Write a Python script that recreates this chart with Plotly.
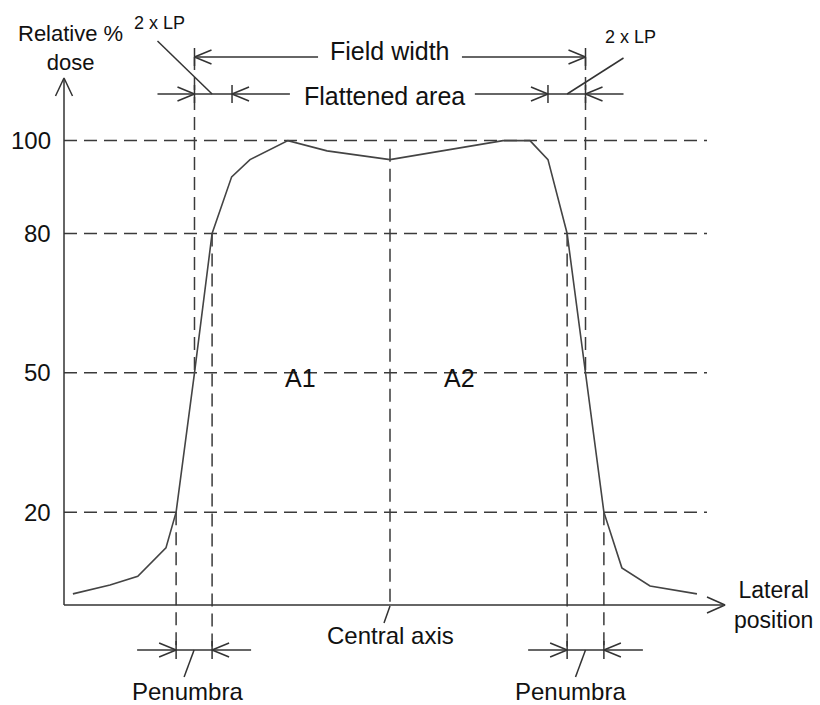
import numpy as np
import plotly.graph_objects as go

# ---------------- data ----------------
lateral_position = [-81.1, -71.6, -64.5, -57.3, -54.7, -50.0, -45.5, -40.5, -35.8, -26.1,
                    -16.1, 0.0, 28.9, 35.8, 40.4, 45.3, 50.0, 54.7, 59.3, 66.5, 78.5]
relative_dose = [2.4, 4.3, 6.2, 12.3, 20, 50, 80, 92.2, 95.9, 100,
                 97.8, 95.9, 100, 100, 95.9, 80, 50, 20, 8.0, 4.1, 2.4]
dose_levels = [20, 50, 80, 100]
dose_tick_labels = ["20", "50", "80", "100"]
flattened_area_edges = [-40.4, 40.4]
central_axis = 0.0

# ---------------- geometry helpers ----------------
X_RANGE = [-99.74, 109.97]
Y_RANGE = [-21.53, 130.28]
W, H = 820, 705
PX = (X_RANGE[1] - X_RANGE[0]) / W   # data units per pixel (x)
PY = (Y_RANGE[1] - Y_RANGE[0]) / H   # data units per pixel (y)

x_arr = np.array(lateral_position)
d_arr = np.array(relative_dose)
peak = int(np.argmax(d_arr))
last_peak = len(d_arr) - 1 - int(np.argmax(d_arr[::-1]))


def left_cross(level):
    return float(np.interp(level, d_arr[:peak + 1], x_arr[:peak + 1]))


def right_cross(level):
    return float(np.interp(level, d_arr[last_peak:][::-1], x_arr[last_peak:][::-1]))


xl20, xl50, xl80 = left_cross(20), left_cross(50), left_cross(80)
xr20, xr50, xr80 = right_cross(20), right_cross(50), right_cross(80)

axis_x = X_RANGE[0] + 64 * PX
axis_top = Y_RANGE[1] - 78 * PY
axis_right = X_RANGE[0] + 725 * PX
grid_right = X_RANGE[0] + 707 * PX
row_field = Y_RANGE[1] - 57 * PY
row_flat = Y_RANGE[1] - 94 * PY
row_pen = Y_RANGE[1] - 650 * PY

solid_x, solid_y = [], []
dash_x, dash_y = [], []


def seg(xs, ys, dashed=False):
    tx, ty = (dash_x, dash_y) if dashed else (solid_x, solid_y)
    tx.extend(list(xs) + [None])
    ty.extend(list(ys) + [None])


def tick(x, y, half=9):
    seg([x, x], [y - half * PY, y + half * PY])


def chevron(x, y, direction):
    # direction=+1: tip points right (arms to the left); -1: tip points left
    dx = 17 * PX * direction
    dy = 7 * PY
    seg([x - dx, x, x - dx], [y + dy, y, y - dy])


# axes
seg([axis_x, axis_x], [0, axis_top - 1 * PY])
seg([axis_x - 8.5 * PX, axis_x, axis_x + 8.5 * PX], [axis_top - 18 * PY, axis_top, axis_top - 18 * PY])
seg([axis_x, axis_right - 2 * PX], [0, 0])
seg([axis_right - 18 * PX, axis_right, axis_right - 18 * PX], [8 * PY, 0, -8 * PY])

# horizontal dashed level lines
for lv in dose_levels:
    seg([axis_x, grid_right], [lv, lv], dashed=True)

# vertical dashed lines
for xv in (xl50, xr50):
    seg([xv, xv], [row_field, 50], dashed=True)
for xv, lv in ((xl20, 20), (xl80, 80), (xr20, 20), (xr80, 80)):
    seg([xv, xv], [lv, row_pen], dashed=True)
center_top = float(np.interp(central_axis, x_arr, d_arr)) + 11 * PY
seg([central_axis, central_axis], [center_top, 0], dashed=True)

# field width row
seg([xl50, -18.4], [row_field, row_field])
seg([18.4, xr50], [row_field, row_field])
tick(xl50, row_field); tick(xr50, row_field)
chevron(xl50, row_field, -1); chevron(xr50, row_field, +1)

# flattened area row
fl, fr = flattened_area_edges
seg([xl50 - 37 * PX, -25.6], [row_flat, row_flat])
seg([21.7, xr50 + 38 * PX], [row_flat, row_flat])
for xv in (xl50, fl, fr, xr50):
    tick(xv, row_flat)
chevron(xl50, row_flat, +1); chevron(fl, row_flat, -1)
chevron(fr, row_flat, +1); chevron(xr50, row_flat, -1)

# 2 x LP leader lines
seg([xl50 - 37 * PX, xl80], [row_flat + 53 * PY, row_flat])
seg([xr50 + 38 * PX, xr80], [row_flat + 36 * PY, row_flat])

# penumbra rows
for a, b in ((xl20, xl80), (xr80, xr20)):
    seg([a - 39 * PX, b + 39 * PX], [row_pen, row_pen])
    tick(a, row_pen); tick(b, row_pen)
    chevron(a, row_pen, +1); chevron(b, row_pen, -1)
    mid = (a + b) / 2
    seg([mid, mid - 10 * PX], [row_pen, row_pen - 27 * PY])

# central axis leader
seg([central_axis, central_axis - 6 * PX], [-1 * PY, -18 * PY])

LINE_COLOR = "#333333"
fig = go.Figure()
fig.add_trace(go.Scatter(x=dash_x, y=dash_y, mode="lines",
                         line=dict(color="#3a3a3a", width=1.5, dash="13px,7px"),
                         hoverinfo="skip", showlegend=False))
fig.add_trace(go.Scatter(x=solid_x, y=solid_y, mode="lines",
                         line=dict(color=LINE_COLOR, width=1.5),
                         hoverinfo="skip", showlegend=False))
fig.add_trace(go.Scatter(x=lateral_position, y=relative_dose, mode="lines",
                         line=dict(color="#444444", width=1.6),
                         hoverinfo="skip", showlegend=False))

FONT = "Liberation Sans, Arial, sans-serif"
ann = []


def text(t, x, y, size=24, xanchor="center"):
    ann.append(dict(text=t, x=x, y=y, xref="x", yref="y", showarrow=False,
                    xanchor=xanchor, yanchor="middle", align="center",
                    font=dict(family=FONT, size=size, color="#111111")))


for lv, lab in zip(dose_levels, dose_tick_labels):
    text(lab, axis_x - 11 * PX, lv, xanchor="right")

text("Relative %<br>dose", axis_x + 6 * PX, Y_RANGE[1] - 48 * PY, size=22)
text("2 x LP", xl50 - 35 * PX, Y_RANGE[1] - 23 * PY, size=18)
text("2 x LP", xr50 + 45 * PX, Y_RANGE[1] - 37 * PY, size=18)
text("Field width", central_axis, Y_RANGE[1] - 51 * PY, size=25)
text("Flattened area", central_axis - 6 * PX, Y_RANGE[1] - 96 * PY, size=25)
text("A1", -23.0, Y_RANGE[1] - 378 * PY, size=25)
text("A2", 17.9, Y_RANGE[1] - 378 * PY, size=25)
text("Central axis", central_axis, Y_RANGE[1] - 635 * PY)
text("Lateral<br>position", axis_right + 48 * PX, Y_RANGE[1] - 605 * PY, size=23)
text("Penumbra", (xl20 + xl80) / 2 - 7 * PX, Y_RANGE[1] - 691 * PY)
text("Penumbra", (xr20 + xr80) / 2 - 15 * PX, Y_RANGE[1] - 691 * PY)

fig.update_layout(
    width=W, height=H, margin=dict(l=0, r=0, t=0, b=0),
    paper_bgcolor="white", plot_bgcolor="white",
    xaxis=dict(range=X_RANGE, visible=False, fixedrange=True),
    yaxis=dict(range=Y_RANGE, visible=False, fixedrange=True),
    annotations=ann, showlegend=False, hovermode=False,
)
fig.write_html("out.html", config={"displayModeBar": False})
